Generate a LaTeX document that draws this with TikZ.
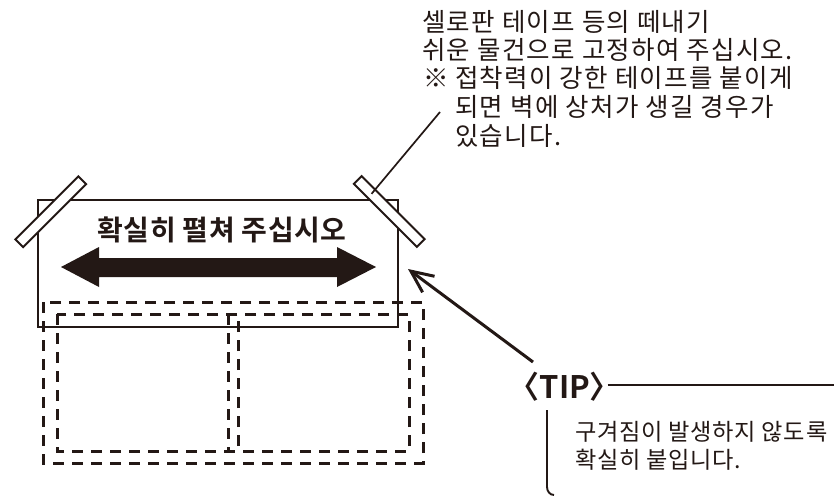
\documentclass[tikz,border=0pt]{standalone}
\usepackage{fontspec}
\newfontfamily\kr{Noto Sans CJK KR}[LetterSpace=5]
\newfontfamily\krt{Noto Sans CJK KR}[LetterSpace=3]
\newfontfamily\krb{Noto Sans CJK KR Bold}[LetterSpace=2]
\newfontfamily\krh{Noto Sans CJK KR Bold}[RawFeature=+halt]
\usetikzlibrary{arrows.meta,calc}
\definecolor{ink}{HTML}{231815}
\begin{document}
\begin{tikzpicture}[x=1pt,y=-1pt,
  frame/.style={draw=ink, line width=2pt, inner sep=0pt},
  dashbox/.style={draw=ink, line width=3pt, dash pattern=on 11pt off 8pt},
  tape/.style={draw=ink, fill=white, line width=2pt, inner sep=0pt, minimum width=89pt, minimum height=11pt},
  lead/.style={draw=ink, line width=1.7pt},
  pointer/.style={draw=ink, line width=3pt, -{Straight Barb[length=22pt,width=20pt,line width=3pt]}},
  toptxt/.style={font=\kr\fontsize{25.5}{28}\selectfont, text=ink, inner sep=0pt, anchor=west},
  tiptxt/.style={font=\krt\fontsize{23.2}{26}\selectfont, text=ink, inner sep=0pt, anchor=west}]
\useasboundingbox (0,0) rectangle (834,495);
\fill[white] (0,0) rectangle (834,495);

% dashed panels
\draw[dashbox] (43,302) rectangle (423,463);
\draw[dashbox] (57,314) rectangle (238,451);
\draw[dashbox] (228,314) rectangle (409,451);

% sheet
\node[frame, minimum width=360pt, minimum height=127pt] (sheet) at (218,263.5) {};
\node[font=\krb\fontsize{28}{30}\selectfont, text=ink, inner sep=0pt] (title) at (222,230) {확실히 펼쳐 주십시오};
\fill[ink] (61,267) -- (99,247) -- (99,258) -- (337,258) -- (337,247) -- (376,267)
  -- (337,287) -- (337,277) -- (99,277) -- (99,287) -- cycle;

% tapes
\node[tape, rotate=45] (tapeL) at (50.75,211.75) {};
\node[tape, rotate=-45] (tapeR) at (389.25,211.5) {};

% note text
\coordinate (noteEnd) at (440,112);
\draw[lead] ($(tapeR.center)!0.55!(tapeR.west)$) -- (noteEnd);
\node[toptxt] (n1) at (422,22) {셀로판 테이프 등의 떼내기};
\node[toptxt] (n2) at (422,50) {쉬운 물건으로 고정하여 주십시오.};
\node[toptxt] (nmark) at (423,78) {※};
\node[toptxt] (n3) at (455,78) {접착력이 강한 테이프를 붙이게};
\node[toptxt] (n4) at (455,107) {되면 벽에 상처가 생길 경우가};
\node[toptxt] (n5) at (455,136) {있습니다.};

% TIP
\node[font=\krh\fontsize{31}{34}\selectfont, text=ink, inner sep=0pt, anchor=west] (tip) at (524,387) {〈TIP〉};
\coordinate (arrTail) at (533,362);
\coordinate (arrHead) at (408,269);
\draw[pointer] (arrTail) -- (arrHead);
\coordinate (tipLineEnd) at (834,385);
\draw[lead] (tip.east |- tipLineEnd) ++(2,0) -- (tipLineEnd);
\coordinate (boxTop) at (547,410);
\draw[draw=ink, line width=1.9pt] (boxTop) -- (547,487) to[out=-90,in=180] (554,495);
\node[tiptxt] (t1) at (575,432) {구겨짐이 발생하지 않도록};
\node[tiptxt] (t2) at (575,460) {확실히 붙입니다.};
\end{tikzpicture}
\end{document}
